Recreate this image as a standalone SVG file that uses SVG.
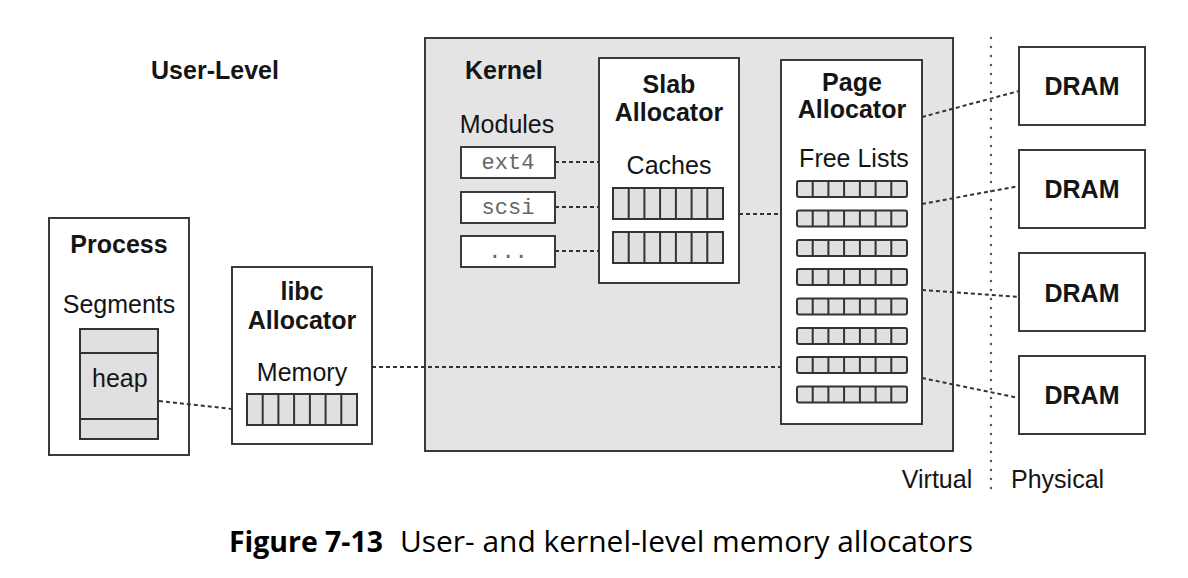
<svg xmlns="http://www.w3.org/2000/svg" xmlns:xlink="http://www.w3.org/1999/xlink" width="1188" height="578" viewBox="0 0 1188 578">
<style>
.box{fill:#fff;stroke:#3a3a3a;stroke-width:2}
.gbox{fill:#e4e4e4;stroke:#3a3a3a;stroke-width:2}
.cell{fill:#e0e0e0;stroke:#333;stroke-width:2}
.t{font-family:"Liberation Sans",Arial,sans-serif;fill:#151515;font-size:25px}
.b{font-weight:bold}
.m{font-family:"Liberation Mono","Courier New",monospace;fill:#666;font-size:22px}
.conn{fill:none;stroke:#333;stroke-width:2;stroke-dasharray:4 3}
.vdiv{fill:none;stroke:#555;stroke-width:2.5;stroke-dasharray:0 9;stroke-linecap:round}
.cap{font-family:"Open Sans","Noto Sans",sans-serif;fill:#000;font-size:29px}
</style>
<defs>
<g id="barT">
<rect class="cell" x="0" y="0" width="110" height="31"/>
<path d="M15.7 0v31M31.4 0v31M47.1 0v31M62.9 0v31M78.6 0v31M94.3 0v31" stroke="#333" stroke-width="2"/>
</g>
<g id="barS">
<rect class="cell" x="0" y="0" width="110" height="16" rx="2"/>
<path d="M15.7 0v16M31.4 0v16M47.1 0v16M62.9 0v16M78.6 0v16M94.3 0v16" stroke="#333" stroke-width="2"/>
</g>
</defs>
<rect width="1188" height="578" fill="#fff"/>

<text id="user-level" class="t b" x="215" y="79" text-anchor="middle">User-Level</text>

<g id="kernel">
<rect class="gbox" x="425" y="38" width="528" height="413"/>
<text class="t b" x="465" y="79">Kernel</text>
<text class="t" x="507" y="133" text-anchor="middle">Modules</text>
</g>

<g id="mod-ext4">
<rect class="box" x="461" y="147" width="94" height="31"/>
<text class="m" x="508" y="169" text-anchor="middle">ext4</text>
</g>
<g id="mod-scsi">
<rect class="box" x="461" y="192" width="94" height="31"/>
<text class="m" x="508" y="214" text-anchor="middle">scsi</text>
</g>
<g id="mod-more">
<rect class="box" x="461" y="236" width="94" height="31"/>
<text class="m" x="508" y="258" text-anchor="middle">...</text>
</g>

<g id="slab">
<rect class="box" x="599" y="58" width="140" height="225"/>
<text class="t b" x="669" y="93" text-anchor="middle">Slab</text>
<text class="t b" x="669" y="121" text-anchor="middle">Allocator</text>
<text class="t" x="669" y="174" text-anchor="middle">Caches</text>
<use xlink:href="#barT" x="613" y="188"/>
<use xlink:href="#barT" x="613" y="232"/>
</g>

<g id="page">
<rect class="box" x="781" y="60" width="141" height="364"/>
<text class="t b" x="852" y="91" text-anchor="middle">Page</text>
<text class="t b" x="852" y="118" text-anchor="middle">Allocator</text>
<text class="t" x="854" y="167" text-anchor="middle">Free Lists</text>
<use xlink:href="#barS" x="797" y="181"/>
<use xlink:href="#barS" x="797" y="210.5"/>
<use xlink:href="#barS" x="797" y="240"/>
<use xlink:href="#barS" x="797" y="269"/>
<use xlink:href="#barS" x="797" y="298.5"/>
<use xlink:href="#barS" x="797" y="328"/>
<use xlink:href="#barS" x="797" y="357"/>
<use xlink:href="#barS" x="797" y="386.5"/>
</g>

<g id="dram1">
<rect class="box" x="1019" y="47" width="126" height="78"/>
<text class="t b" x="1082" y="95" text-anchor="middle">DRAM</text>
</g>
<g id="dram2">
<rect class="box" x="1019" y="150" width="126" height="78"/>
<text class="t b" x="1082" y="198" text-anchor="middle">DRAM</text>
</g>
<g id="dram3">
<rect class="box" x="1019" y="253" width="126" height="78"/>
<text class="t b" x="1082" y="302" text-anchor="middle">DRAM</text>
</g>
<g id="dram4">
<rect class="box" x="1019" y="356" width="126" height="78"/>
<text class="t b" x="1082" y="404" text-anchor="middle">DRAM</text>
</g>

<g id="process">
<rect class="box" x="49" y="218" width="140" height="237"/>
<text class="t b" x="119" y="253" text-anchor="middle">Process</text>
<text class="t" x="119" y="313" text-anchor="middle">Segments</text>
<rect class="cell" x="80" y="329" width="78" height="110"/>
<path d="M80 353h78M80 419h78" stroke="#333" stroke-width="2"/>
<text class="t" x="92" y="387">heap</text>
</g>

<g id="libc">
<rect class="box" x="232" y="267" width="140" height="177"/>
<text class="t b" x="302" y="300" text-anchor="middle">libc</text>
<text class="t b" x="302" y="329" text-anchor="middle">Allocator</text>
<text class="t" x="302" y="381" text-anchor="middle">Memory</text>
<use xlink:href="#barT" x="247" y="394"/>
</g>

<g id="connectors">
<path class="conn" d="M555 162H599M555 207H599M555 251H599"/>
<path class="conn" d="M739 214H781"/>
<path class="conn" d="M372 367H781"/>
<path class="conn" d="M159 401L232 409"/>
<path class="conn" d="M922 117L1019 91"/>
<path class="conn" d="M922 204L1019 186"/>
<path class="conn" d="M922 290L1019 297"/>
<path class="conn" d="M922 378L1019 398"/>
<path class="vdiv" d="M991 38V492"/>
</g>

<text class="t" x="937" y="488" text-anchor="middle">Virtual</text>
<text class="t" x="1011" y="488">Physical</text>

<text class="cap" x="229" y="552" font-weight="bold" textLength="154" lengthAdjust="spacingAndGlyphs">Figure 7-13</text>
<text class="cap" x="400" y="552" textLength="573" lengthAdjust="spacingAndGlyphs">User- and kernel-level memory allocators</text>
</svg>
